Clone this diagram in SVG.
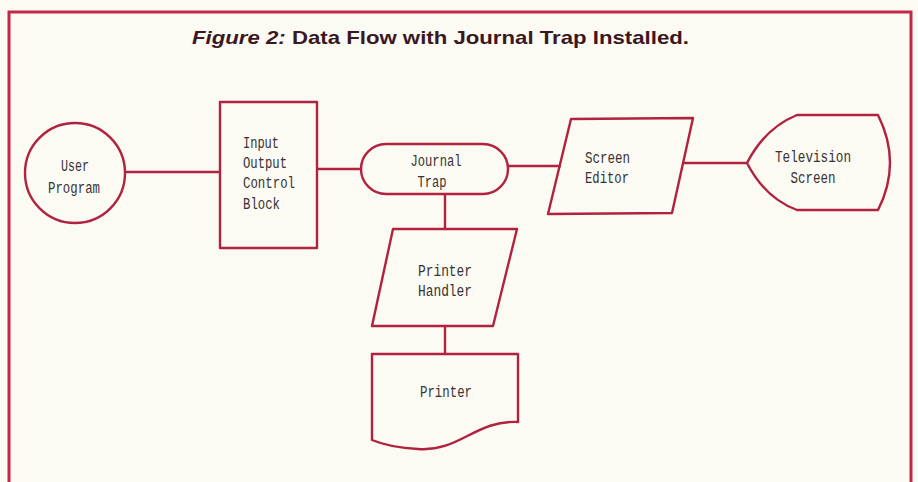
<svg xmlns="http://www.w3.org/2000/svg" width="918" height="482" viewBox="0 0 918 482">
<style>
.bg{fill:#fbfaf3}
.frame{fill:none;stroke:#c42848;stroke-width:3}
.shape{fill:none;stroke:#b0223f;stroke-width:2.4;stroke-linejoin:round}
.conn{fill:none;stroke:#b0223f;stroke-width:2.4}
.lbl{font-family:"Liberation Mono","DejaVu Sans Mono",monospace;font-size:16px;fill:#3a3234}
.mid{text-anchor:middle}
.title{font-family:"Liberation Sans",Arial,sans-serif;font-size:19px;font-weight:bold;fill:#3a1822}
</style>
<rect class="bg" x="0" y="0" width="918" height="482"/>
<path class="frame" d="M9,482 V12 H911 V482"/>
<text class="title" x="192" y="44" textLength="497" lengthAdjust="spacingAndGlyphs"><tspan font-style="italic">Figure 2:</tspan> Data Flow with Journal Trap Installed.</text>

<g id="connectors">
<line class="conn" x1="125" y1="172" x2="220" y2="172"/>
<line class="conn" x1="317" y1="169" x2="361" y2="169"/>
<line class="conn" x1="508" y1="166" x2="561" y2="166"/>
<line class="conn" x1="683" y1="163" x2="747" y2="163"/>
<line class="conn" x1="445" y1="194" x2="445" y2="229"/>
<line class="conn" x1="445" y1="326" x2="445" y2="354"/>
</g>

<g id="user-program">
<circle class="shape" cx="75" cy="173" r="50"/>
<text class="lbl mid" x="75" y="171" textLength="28" lengthAdjust="spacingAndGlyphs">User</text>
<text class="lbl mid" x="74" y="193" textLength="52" lengthAdjust="spacingAndGlyphs">Program</text>
</g>

<g id="io-control-block">
<rect class="shape" x="220" y="102" width="97" height="146"/>
<text class="lbl" x="243" y="148" textLength="36" lengthAdjust="spacingAndGlyphs">Input</text>
<text class="lbl" x="243" y="168" textLength="44" lengthAdjust="spacingAndGlyphs">Output</text>
<text class="lbl" x="243" y="188" textLength="52" lengthAdjust="spacingAndGlyphs">Control</text>
<text class="lbl" x="243" y="209" textLength="37" lengthAdjust="spacingAndGlyphs">Block</text>
</g>

<g id="journal-trap">
<rect class="shape" x="361" y="144" width="147" height="50" rx="25" ry="25"/>
<text class="lbl mid" x="436" y="166" textLength="51" lengthAdjust="spacingAndGlyphs">Journal</text>
<text class="lbl mid" x="432" y="187" textLength="29" lengthAdjust="spacingAndGlyphs">Trap</text>
</g>

<g id="screen-editor">
<polygon class="shape" points="571,119 693,118 672,213 548,214"/>
<text class="lbl" x="585" y="163" textLength="45" lengthAdjust="spacingAndGlyphs">Screen</text>
<text class="lbl" x="585" y="183" textLength="44" lengthAdjust="spacingAndGlyphs">Editor</text>
</g>

<g id="television-screen">
<path class="shape" d="M747,163 Q765,128 797,115 H878 Q902,163 878,210 H797 Q765,198 747,163 Z"/>
<text class="lbl mid" x="813" y="162" textLength="76" lengthAdjust="spacingAndGlyphs">Television</text>
<text class="lbl mid" x="813" y="183" textLength="45" lengthAdjust="spacingAndGlyphs">Screen</text>
</g>

<g id="printer-handler">
<polygon class="shape" points="393,229 517,229 493,326 372,326"/>
<text class="lbl" x="418" y="276" textLength="54" lengthAdjust="spacingAndGlyphs">Printer</text>
<text class="lbl" x="418" y="296" textLength="54" lengthAdjust="spacingAndGlyphs">Handler</text>
</g>

<g id="printer">
<path class="shape" d="M372,354 H518 V422 C475,420 460,452 418,449 C398,448 384,445 372,440 Z"/>
<text class="lbl mid" x="446" y="397" textLength="52" lengthAdjust="spacingAndGlyphs">Printer</text>
</g>
</svg>
